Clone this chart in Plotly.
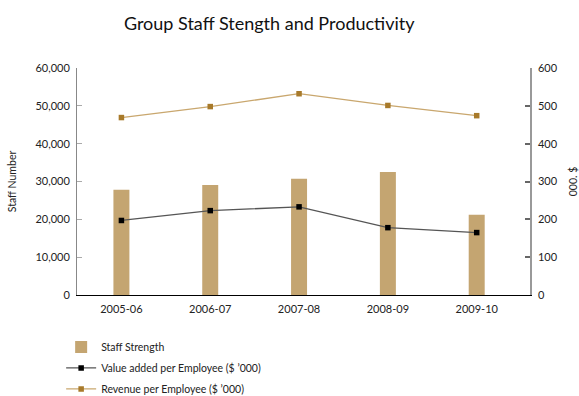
import plotly.graph_objects as go

categories = ["2005-06", "2006-07", "2007-08", "2008-09", "2009-10"]
staff_strength = [27800, 29100, 30700, 32500, 21200]
value_added = [197, 223, 233, 178, 165]
revenue = [469, 498, 532, 501, 474]

left_ticks = [0, 10000, 20000, 30000, 40000, 50000, 60000]
left_labels = ["0", "10,000", "20,000", "30,000", "40,000", "50,000", "60,000"]
right_ticks = [0, 100, 200, 300, 400, 500, 600]

FONT = "Lato"

fig = go.Figure()
fig.add_trace(go.Bar(
    x=categories, y=staff_strength, name="Staff Strength", legendgroup="a",
    marker=dict(color="#C4A571", line=dict(width=0)), width=0.18,
))
fig.add_trace(go.Scatter(
    x=categories, y=value_added, name="Value added per Employee ($ ’000)",
    mode="lines+markers", yaxis="y2", legendgroup="b",
    line=dict(color="#555555", width=1.3),
    marker=dict(symbol="square", size=5.5, color="#000000"),
))
fig.add_trace(go.Scatter(
    x=categories, y=revenue, name="Revenue per Employee ($ ’000)",
    mode="lines+markers", yaxis="y2", legendgroup="c",
    line=dict(color="#C9A76E", width=1.3),
    marker=dict(symbol="square", size=5.5, color="#A87A2A"),
))

fig.update_layout(
    width=579, height=396,
    margin=dict(l=77, r=49, t=68, b=101, autoexpand=False),
    paper_bgcolor="white", plot_bgcolor="white",
    font=dict(family=FONT, size=11, color="#222222"),
    title=dict(text="Group Staff Stength and Productivity", x=0.465, xanchor="center",
               y=0.94, yanchor="middle", font=dict(family=FONT, size=18, color="#111111")),
    showlegend=True,
    legend=dict(x=-0.035, y=-0.165, xanchor="left", yanchor="top",
                font=dict(size=10.5, color="#222222"), traceorder="grouped",
                tracegroupgap=2,
                bgcolor="rgba(0,0,0,0)", itemwidth=30),
    xaxis=dict(
        type="category", range=[-0.5, 4.6], showgrid=False,
        showline=True, linecolor="#000000", linewidth=1.2,
        ticks="", tickfont=dict(size=11), ticklabelstandoff=4,
    ),
    yaxis=dict(
        range=[0, 60000], tickvals=left_ticks, ticktext=left_labels,
        showgrid=False, zeroline=False,
        showline=True, linecolor="#888888", linewidth=1,
        ticks="inside", ticklen=5, tickcolor="#aaaaaa", tickwidth=1,
        ticklabelstandoff=4,
        title=dict(text="Staff Number", font=dict(size=10.5), standoff=16),
        tickfont=dict(size=11),
    ),
    yaxis2=dict(
        range=[0, 600], tickvals=right_ticks, overlaying="y", side="right",
        showgrid=False, zeroline=False,
        showline=True, linecolor="#999999", linewidth=1.5,
        ticks="inside", ticklen=5, tickcolor="#666666", tickwidth=1.5,
        ticklabelstandoff=4,
        title=dict(text="000. $", font=dict(size=10.5), standoff=16),
        tickfont=dict(size=11),
    ),
)

fig.write_html("out.html")
